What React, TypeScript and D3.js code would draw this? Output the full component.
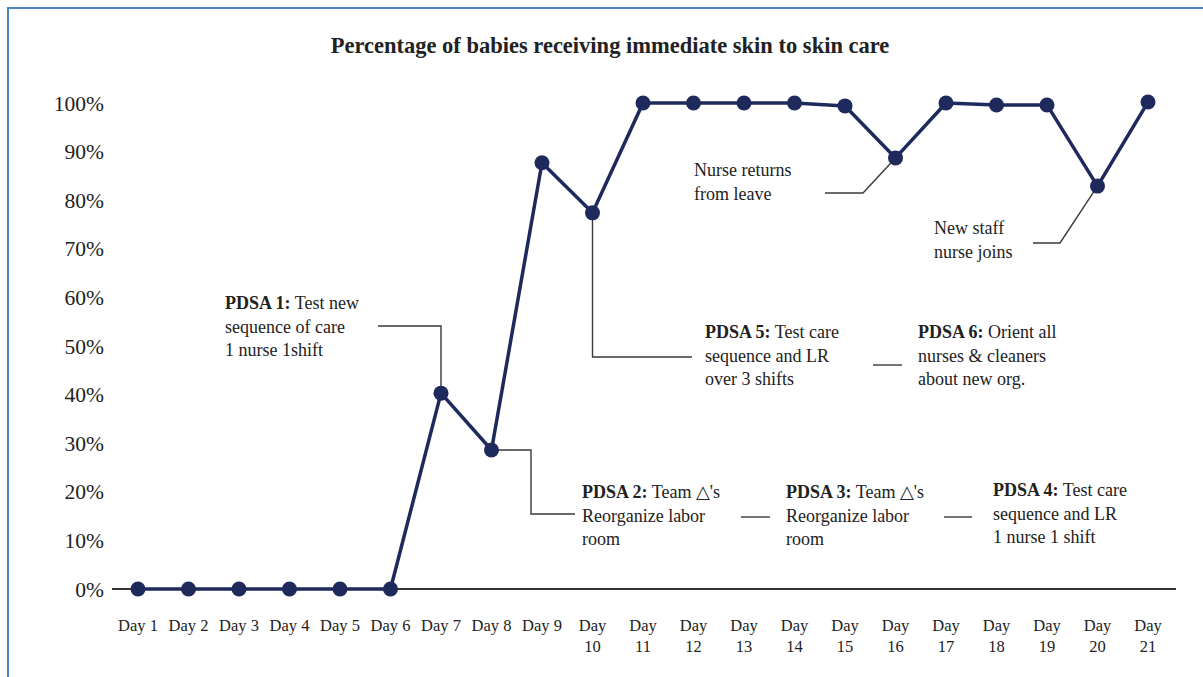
import React from 'react'
import * as d3 from 'd3'

const days = d3.range(1, 22).map(d => `Day ${d}`)
const values = [0, 0, 0, 0, 0, 0, 40.3, 28.6, 87.7, 77.4, 100, 100, 100, 100, 99.4, 88.7, 100, 99.6, 99.6, 82.9, 100.2]
const yTicks = [0, 10, 20, 30, 40, 50, 60, 70, 80, 90, 100]

// annotation text blocks: [bold lead, rest of lines]
const notes = [
  { x: 225, y: 309, bold: 'PDSA 1:', lines: [' Test new', 'sequence of care', '1 nurse 1shift'] },
  { x: 582, y: 498, bold: 'PDSA 2:', lines: [' Team \u25B3\'s', 'Reorganize labor', 'room'] },
  { x: 786, y: 498, bold: 'PDSA 3:', lines: [' Team \u25B3\'s', 'Reorganize labor', 'room'] },
  { x: 993, y: 496, bold: 'PDSA 4:', lines: [' Test care', 'sequence and LR', '1 nurse 1 shift'] },
  { x: 705, y: 338, bold: 'PDSA 5:', lines: [' Test care', 'sequence and LR', 'over 3 shifts'] },
  { x: 918, y: 338, bold: 'PDSA 6:', lines: [' Orient all', 'nurses & cleaners', 'about new org.'] },
  { x: 694, y: 176, bold: '', lines: ['Nurse returns', 'from leave'] },
  { x: 934, y: 234, bold: '', lines: ['New staff', 'nurse joins'] },
]

export default function App() {
  const width = 1203
  const height = 677
  const x = d3.scalePoint<string>().domain(days).range([138, 1148])
  const y = d3.scaleLinear().domain([0, 100]).range([589, 103])
  const line = d3.line<number>().x((_, i) => x(days[i])!).y(v => y(v))
  const navy = '#1f2a5c'
  const lead = '#3a3a3a'
  const font = '"Liberation Serif", "DejaVu Serif", serif'

  const px = (i: number) => x(days[i])!
  const py = (i: number) => y(values[i])

  // leader lines: each starts at a data point (by index)
  const leaders = [
    `M${px(6)},${py(6)} V326 H378`,
    `M${px(7)},${py(7)} H531 V514 H575`,
    `M${px(9)},${py(9)} V357 H692`,
    `M${px(15)},${py(15)} L863,193 H825`,
    `M${px(19)},${py(19)} L1060,243 H1033`,
    'M741,517 H770',
    'M944,517 H972',
    'M873,365 H902',
  ]

  return (
    <svg width={width} height={height} style={{ position: 'absolute', left: 0, top: 0, background: '#fff' }} fontFamily={font}>
      <path d={`M8,${height} V8 H${width}`} fill="none" stroke="#4a86c5" strokeWidth={2} />
      <text x={610} y={53} textAnchor="middle" fontWeight="bold" fontSize={22.5} fill="#222">
        Percentage of babies receiving immediate skin to skin care
      </text>

      {yTicks.map(t => (
        <text key={t} x={104} y={y(t)} dy="0.35em" textAnchor="end" fontSize={21.5} fill="#222">{t}%</text>
      ))}

      <line x1={112} x2={1176} y1={y(0)} y2={y(0)} stroke="#333" strokeWidth={2} />

      {days.map((d, i) => {
        const [w, n] = d.split(' ')
        return i < 9 ? (
          <text key={d} x={x(d)} y={631} textAnchor="middle" fontSize={16.5} fill="#222">{d}</text>
        ) : (
          <text key={d} x={x(d)} textAnchor="middle" fontSize={16.5} fill="#222">
            <tspan x={x(d)} y={631}>{w}</tspan>
            <tspan x={x(d)} y={652}>{n}</tspan>
          </text>
        )
      })}

      {leaders.map((p, i) => (
        <path key={i} d={p} fill="none" stroke={lead} strokeWidth={1.4} />
      ))}

      <path d={line(values)!} fill="none" stroke={navy} strokeWidth={3.5} strokeLinejoin="round" />
      {values.map((v, i) => (
        <circle key={i} cx={px(i)} cy={y(v)} r={7.5} fill={navy} />
      ))}

      {notes.map((n, k) => (
        <text key={k} fontSize={18} fill="#222">
          {n.lines.map((l, j) => (
            <tspan key={j} x={j === 0 && n.bold ? undefined : n.x} y={n.y + j * 23.5}>
              {j === 0 && n.bold ? (
                <>
                  <tspan x={n.x} fontWeight="bold">{n.bold}</tspan>
                  <tspan>{l}</tspan>
                </>
              ) : l}
            </tspan>
          ))}
        </text>
      ))}
    </svg>
  )
}
